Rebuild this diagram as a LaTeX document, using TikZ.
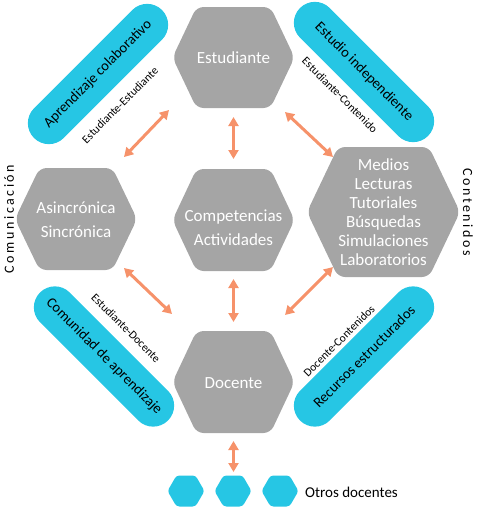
\documentclass[tikz,border=0pt]{standalone}
\usepackage{fontspec}
\setmainfont{Carlito}
\newfontfamily\spacedfont[LetterSpace=18]{Carlito}
\usetikzlibrary{arrows.meta}
\definecolor{hexgray}{HTML}{A5A5A5}
\definecolor{pillcyan}{RGB}{38,198,228}
\definecolor{arrowor}{RGB}{246,146,106}
% style, x, y, half-width, half-top, half-height
\newcommand\myhex[6]{\fill[#1] (#2-#4,#3) -- (#2-#5,#3-#6) -- (#2+#5,#3-#6) -- (#2+#4,#3) -- (#2+#5,#3+#6) -- (#2-#5,#3+#6) -- cycle;}
\tikzset{
 hexfill/.style={fill=hexgray, rounded corners=7pt},
 smallhex/.style={fill=pillcyan, rounded corners=3pt},
 hextext/.style={text=white, align=center, font=\fontsize{17}{24}\selectfont, inner sep=0pt},
 pill/.style={fill=pillcyan, rounded corners=21pt, minimum width=181pt, minimum height=42pt, inner sep=0pt, font=\fontsize{14.5}{16}\selectfont, text=black},
 linklabel/.style={font=\fontsize{11.5}{13}\selectfont, inner sep=0pt},
 sidelabel/.style={font=\spacedfont\fontsize{14}{16}\selectfont, inner sep=0pt},
 arr/.style={draw=arrowor, line width=3pt, {Triangle[length=9pt,width=10pt]}-{Triangle[length=9pt,width=10pt]}}
}
\begin{document}
\begin{tikzpicture}[x=1pt,y=-1pt]
\useasboundingbox (0,0) rectangle (477,509);
% hexagons
\myhex{hexfill}{233.5}{57.5}{61}{37}{50.5}
\myhex{hexfill}{76}{219}{61}{36.5}{51}
\myhex{hexfill}{233.5}{220}{61}{37}{51}
\myhex{hexfill}{383.5}{212}{76.5}{45.5}{65}
\myhex{hexfill}{233.5}{382}{61}{37}{51}
\myhex{smallhex}{186}{491}{18.5}{9.5}{15.5}
\myhex{smallhex}{233}{491}{18.5}{9.5}{15.5}
\myhex{smallhex}{280}{491}{18.5}{9.5}{15.5}
% hexagon texts
\node[hextext] (est) at (233.5,58) {Estudiante};
\node[hextext] (asin) at (76,219.5) {Asincrónica\\Sincrónica};
\node[hextext] (comp) at (233.5,228) {Competencias\\Actividades};
\node[hextext, font=\fontsize{17}{19}\selectfont] (cont) at (383.5,212.5) {Medios\\Lecturas\\Tutoriales\\Búsquedas\\Simulaciones\\Laboratorios};
\node[hextext] (doc) at (233.5,383) {Docente};
\node[anchor=west, inner sep=0pt, font=\fontsize{15}{17}\selectfont] (otros) at (305,492) {Otros docentes};
% pills
\node[pill, rotate=45] (apr) at (98,74) {Aprendizaje colaborativo};
\node[pill, rotate=-45] (eind) at (364,72) {Estudio independiente};
\node[pill, rotate=-45] (comu) at (104,356.5) {Comunidad de aprendizaje};
\node[pill, rotate=45] (recu) at (364,356.5) {Recursos estructurados};
% link labels
\node[linklabel, rotate=45] (lee) at (120,105) {Estudiante-Estudiante};
\node[linklabel, rotate=-45] (lec) at (340,95) {Estudiante-Contenido};
\node[linklabel, rotate=-45] (led) at (126,328) {Estudiante-Docente};
\node[linklabel, rotate=45] (ldc) at (339,341) {Docente-Contenidos};
% side labels
\node[sidelabel, rotate=90] (lcom) at (9,219) {Comunicación};
\node[sidelabel, rotate=-90] (lcon) at (468,212) {Contenidos};
% arrows
\coordinate (a1s) at (169,110); \coordinate (a1e) at (124,157);
\coordinate (a2s) at (233.5,117); \coordinate (a2e) at (233.5,159);
\coordinate (a3s) at (285,112); \coordinate (a3e) at (333,157);
\coordinate (a4s) at (124,268); \coordinate (a4e) at (172,314);
\coordinate (a5s) at (233.5,279); \coordinate (a5e) at (233.5,322);
\coordinate (a6s) at (333,267); \coordinate (a6e) at (285,315);
\coordinate (a7s) at (233.5,441); \coordinate (a7e) at (233.5,472);
\draw[arr] (a1s) -- (a1e);
\draw[arr] (a2s) -- (a2e);
\draw[arr] (a3s) -- (a3e);
\draw[arr] (a4s) -- (a4e);
\draw[arr] (a5s) -- (a5e);
\draw[arr] (a6s) -- (a6e);
\draw[arr] (a7s) -- (a7e);
\end{tikzpicture}
\end{document}
